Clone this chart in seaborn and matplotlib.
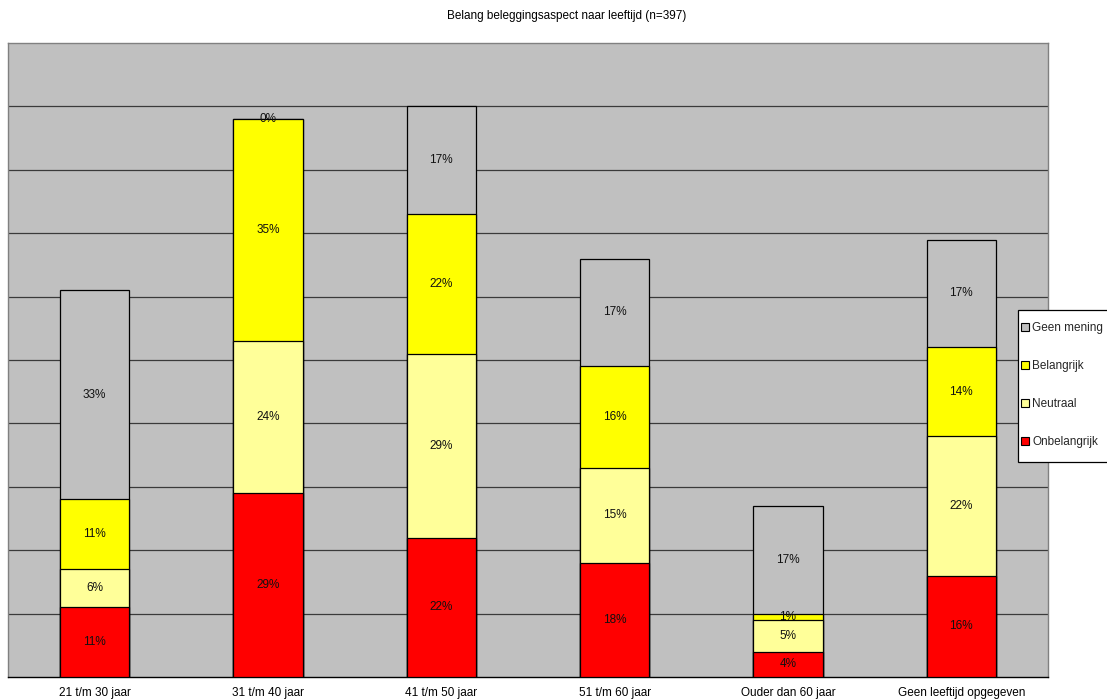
import matplotlib
matplotlib.use("Agg")
import matplotlib.pyplot as plt
from matplotlib.lines import Line2D
from matplotlib.patches import Rectangle
from matplotlib.ticker import FixedLocator
import numpy as np
import pandas as pd
import seaborn as sns

# Age groups and answer shares (percent) per aspect
categories = ["21 t/m 30 jaar", "31 t/m 40 jaar", "41 t/m 50 jaar",
              "51 t/m 60 jaar", "Ouder dan 60 jaar", "Geen leeftijd opgegeven"]
onbelangrijk = [11, 29, 22, 18, 4, 16]
neutraal = [6, 24, 29, 15, 5, 22]
belangrijk = [11, 35, 22, 16, 1, 14]
geen_mening = [33, 0, 17, 17, 17, 17]

series_names = ["Onbelangrijk", "Neutraal", "Belangrijk", "Geen mening"]
series_values = [onbelangrijk, neutraal, belangrijk, geen_mening]
series_colors = ["#FF0000", "#FFFF99", "#FFFF00", "#C0C0C0"]

title = "Belang beleggingsaspect naar leeftijd (n=397)"
FS = 8.5
W, H = 1107, 700

sns.set_theme(style="white")
plt.rcParams["font.family"] = ["Liberation Sans", "DejaVu Sans"]

df = pd.DataFrame({"leeftijd": categories})
for name, vals in zip(series_names, series_values):
    df[name] = vals
cum = df[series_names].cumsum(axis=1)

fig = plt.figure(figsize=(W / 100, H / 100), dpi=100)
ax = fig.add_axes([8 / W, 23 / H, 1040 / W, 634 / H])
ax.set_facecolor("#C0C0C0")

# Stacked bars: draw cumulative totals from the top layer down
for name, color in reversed(list(zip(series_names, series_colors))):
    sns.barplot(data=pd.DataFrame({"leeftijd": categories, "v": cum[name]}),
                x="leeftijd", y="v", color=color, width=0.4,
                edgecolor="black", linewidth=0.9, saturation=1,
                errorbar=None, ax=ax, zorder=3)

# Segment labels at the middle of each segment
for i in range(len(categories)):
    bottom = 0
    for name in series_names:
        v = df.loc[i, name]
        ax.text(i, bottom + v / 2, f"{v}%", ha="center", va="center",
                fontsize=FS, color="#111111", zorder=5)
        bottom += v

ax.set_ylim(0, 100)
ax.set_xlim(-0.5, len(categories) - 0.5)
ax.set_yticks(np.arange(10, 100, 10))
ax.set_yticklabels([])
ax.tick_params(axis="y", length=0)
ax.yaxis.grid(True, color="#3a3a3a", linewidth=0.9)
ax.set_axisbelow(True)

ax.set_xlabel("")
ax.set_ylabel("")
ax.tick_params(axis="x", which="major", length=0, labelsize=FS, pad=7,
               labelcolor="black")
ax.xaxis.set_minor_locator(FixedLocator(np.arange(-0.5, len(categories), 1.0)))
ax.tick_params(axis="x", which="minor", length=5, width=0.9, color="black",
               direction="out")

for side in ["top", "left", "right"]:
    ax.spines[side].set_color("#808080")
    ax.spines[side].set_linewidth(1.0)
ax.spines["bottom"].set_color("black")
ax.spines["bottom"].set_linewidth(1.0)

fig.text(567 / W, 1 - 16 / H, title, ha="center", va="center",
         fontsize=FS, color="black")

# Legend box running past the right edge of the figure
fig.patches.append(Rectangle((1018 / W, 1 - 462 / H), 120 / W, 152 / H,
                             transform=fig.transFigure, facecolor="white",
                             edgecolor="black", linewidth=0.9, zorder=4))

handles = [Line2D([], [], linestyle="none", marker="s", markersize=5.8,
                  markerfacecolor=c, markeredgecolor="black",
                  markeredgewidth=0.8, label=n)
           for n, c in zip(series_names, series_colors)][::-1]
leg = fig.legend(handles=handles, loc="upper left",
                 bbox_to_anchor=(1021 / W, 1 - 322 / H),
                 fontsize=FS, frameon=False,
                 handlelength=0.7, handleheight=0.7, handletextpad=0.25,
                 labelspacing=2.2, borderpad=0, borderaxespad=0)
leg.set_zorder(5)

fig.savefig("out.png", dpi=100)
